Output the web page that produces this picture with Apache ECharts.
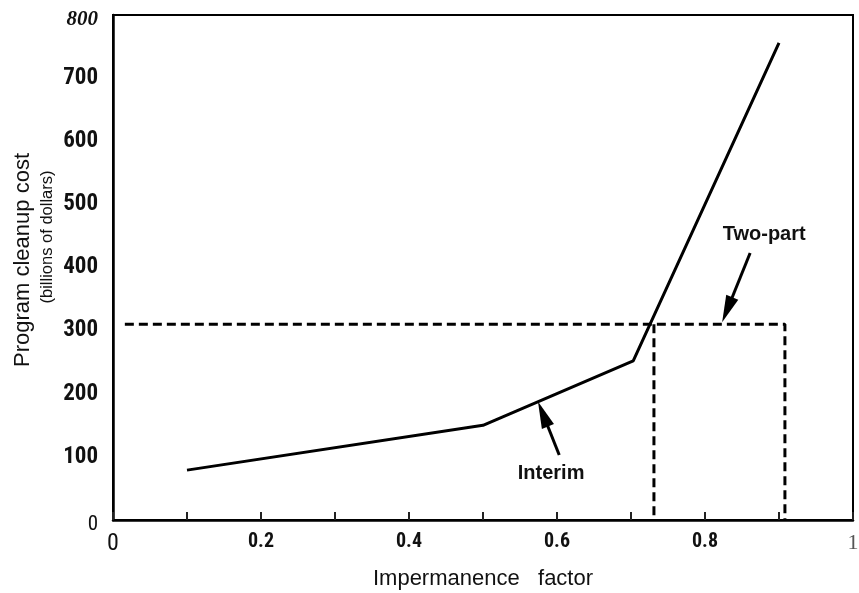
<!DOCTYPE html>
<html>
<head>
<meta charset="utf-8">
<script src="https://cdn.jsdelivr.net/npm/echarts@6/dist/echarts.min.js"></script>
<style>html,body{margin:0;padding:0;background:#fff}#c{width:859px;height:593px}</style>
</head>
<body>
<div id="c"></div>
<script>
// Interim (solid) curve
var interimX = [0.10, 0.50, 0.703, 0.90];
var interimY = [79, 150, 252, 756];
// Two-part (dashed) path
var twoPartX = [0.016, 0.908, 0.908];
var twoPartY = [310, 310, 0];
// Dashed drop line at intersection
var dropX = [0.731, 0.731];
var dropY = [310, 0];
// Annotations (arrow tail -> arrow end, label anchors)
var interimArrow = [[0.603, 103], [0.581, 168]];
var twoPartArrow = [[0.861, 423], [0.830, 333]];
var interimLabel = [0.592, 73];
var twoPartLabel = [0.880, 453];
var xTicks = [0, 0.2, 0.4, 0.6, 0.8, 1];
var yTicks = [0, 100, 200, 300, 400, 500, 600, 700, 800];

function pairs(xs, ys) { return xs.map(function (x, i) { return [x, ys[i]]; }); }

var NARROW = '"Roboto Condensed","Open Sans",sans-serif';
var SANS = '"Liberation Sans",Arial,sans-serif';
var chart = echarts.init(document.getElementById('c'), null, {renderer: 'canvas'});
chart.setOption({
  animation: false,
  backgroundColor: '#fff',
  grid: {left: 113, top: 15, right: 6, bottom: 73, show: true, borderColor: '#000', borderWidth: 2,
    containLabel: false, outerBoundsMode: 'none'},
  xAxis: {
    type: 'value', min: 0, max: 1, interval: 0.1,
    name: 'Impermanence   factor', nameLocation: 'middle', nameGap: 48, nameMoveOverlap: false,
    nameTextStyle: {fontFamily: SANS, fontSize: 22, color: '#111'},
    axisLine: {show: true, lineStyle: {color: '#000', width: 2.5}},
    axisTick: {show: true, inside: true, length: 8, lineStyle: {color: '#222', width: 2}},
    splitLine: {show: false},
    axisLabel: {
      margin: 12,
      formatter: function (v) {
        var r = Math.round(v * 10) / 10;
        var hit = xTicks.some(function (t) { return Math.abs(t - r) < 1e-9; });
        if (!hit) return '';
        if (r === 0) return '{z|0}';
        if (r === 1) return '{o|1}';
        return '{b|' + r.toFixed(1) + '}';
      },
      rich: {
        b: {fontFamily: NARROW, fontWeight: 'bold', fontSize: 20, color: '#111'},
        z: {fontFamily: NARROW, fontSize: 24, color: '#111'},
        o: {fontFamily: '"Liberation Serif",serif', fontSize: 22, color: '#555'}
      }
    }
  },
  yAxis: {
    type: 'value', min: 0, max: 800, interval: 100,
    name: '{a|Program cleanup cost}\n{s|(billions of dollars)}', nameLocation: 'middle', nameGap: 53, nameRotate: 90,
    nameMoveOverlap: false,
    nameTextStyle: {
      rich: {
        a: {fontFamily: SANS, fontSize: 22, color: '#111', lineHeight: 25, padding: [0, 0, 0, 15]},
        s: {fontFamily: SANS, fontSize: 16.5, color: '#111', lineHeight: 25, padding: [0, 0, 0, 61]}
      }
    },
    axisLine: {show: true, lineStyle: {color: '#000', width: 2.5}},
    axisTick: {show: false},
    splitLine: {show: false},
    axisLabel: {
      margin: 15,
      formatter: function (v) {
        if (yTicks.indexOf(v) < 0) return '';
        if (v === 800) return '{i|800}';
        if (v === 0) return '{z|0}';
        return '{b|' + v + '}';
      },
      rich: {
        b: {fontFamily: NARROW, fontWeight: 'bold', fontSize: 23, color: '#111'},
        i: {fontFamily: '"Liberation Serif",serif', fontStyle: 'italic', fontWeight: 'bold', fontSize: 21, color: '#111', padding: [9, 0, 0, 0]},
        z: {fontFamily: NARROW, fontSize: 21, color: '#111', padding: [9, 0, 0, 0]}
      }
    }
  },
  series: [
    {
      type: 'line', name: 'Interim', data: pairs(interimX, interimY), symbol: 'none',
      lineStyle: {color: '#000', width: 3}, silent: true,
      markPoint: {
        symbol: 'circle', symbolSize: 0, silent: true,
        label: {show: true, position: 'inside', fontFamily: SANS, fontWeight: 'bold', fontSize: 20, color: '#111',
          formatter: function (p) { return p.name; }},
        data: [
          {name: 'Interim', coord: interimLabel},
          {name: 'Two-part', coord: twoPartLabel}
        ]
      },
      markLine: {
        silent: true, symbol: ['none', 'triangle'], symbolSize: [13, 27],
        label: {show: false},
        lineStyle: {color: '#000', width: 3, type: 'solid'},
        emphasis: {disabled: true},
        data: [
          [{coord: interimArrow[0]}, {coord: interimArrow[1]}],
          [{coord: twoPartArrow[0]}, {coord: twoPartArrow[1]}]
        ]
      }
    },
    {
      type: 'line', name: 'Two-part', data: pairs(twoPartX, twoPartY), symbol: 'none', silent: true,
      lineStyle: {color: '#000', width: 3, type: [9, 5]}
    },
    {
      type: 'line', name: 'drop', data: pairs(dropX, dropY), symbol: 'none', silent: true,
      lineStyle: {color: '#000', width: 3, type: [9, 5]}
    }
  ]
});
</script>
</body>
</html>
